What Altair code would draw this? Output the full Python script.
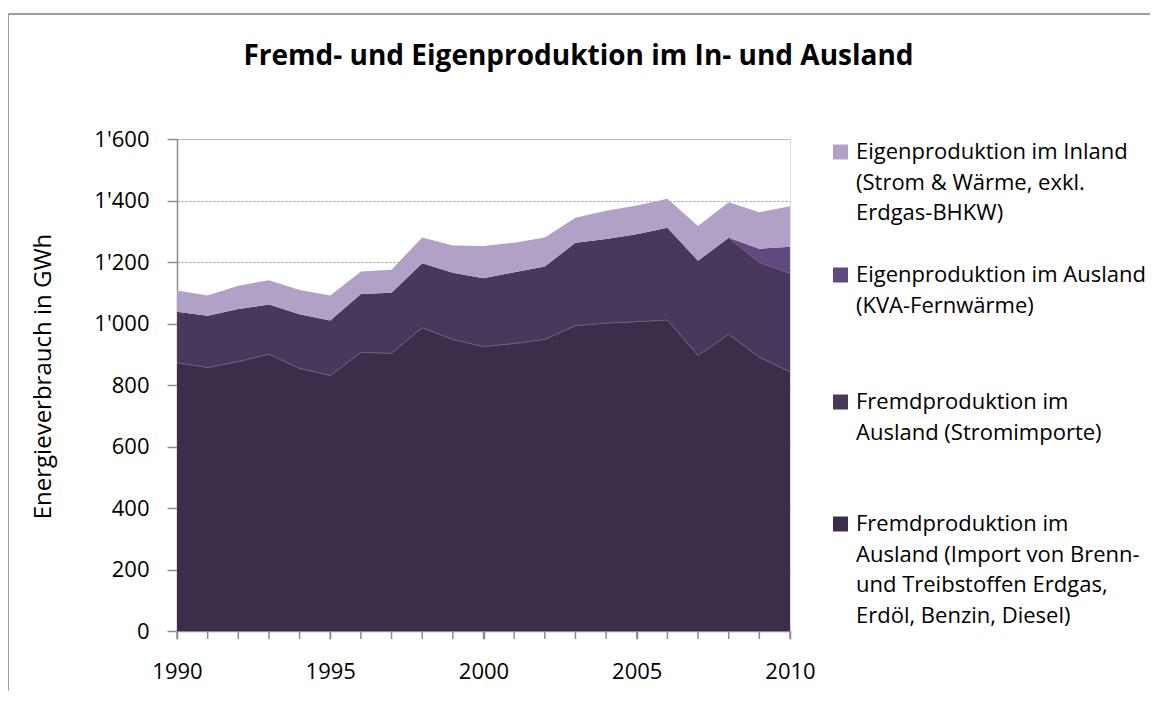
import altair as alt
import pandas as pd

# ---------------- data ----------------
years = list(range(1990, 2011))
year_labels = [1990, 1995, 2000, 2005, 2010]

series_names = [
    "Fremdproduktion im Ausland (Import von Brenn- und Treibstoffen Erdgas, Erdöl, Benzin, Diesel)",
    "Fremdproduktion im Ausland (Stromimporte)",
    "Eigenproduktion im Ausland (KVA-Fernwärme)",
    "Eigenproduktion im Inland (Strom & Wärme, exkl. Erdgas-BHKW)",
]

import_brenn = [872, 857, 876, 900, 854, 831, 906, 903, 986, 948, 925,
                935, 948, 993, 1001, 1006, 1011, 896, 965, 890, 843]
stromimporte = [166, 168, 171, 162, 176, 179, 190, 197, 210, 217, 222,
                232, 237, 270, 274, 284, 300, 308, 314, 308, 320]
kva_fernwaerme = [0, 0, 0, 0, 0, 0, 0, 0, 0, 0, 0,
                  0, 0, 0, 0, 0, 0, 0, 0, 45, 87]
eigen_inland = [69, 66, 76, 79, 79, 81, 73, 75, 84, 89, 105,
                96, 95, 81, 92, 94, 95, 113, 115, 119, 131]

legend_lines = [
    ["Eigenproduktion im Inland", "(Strom & Wärme, exkl.", "Erdgas-BHKW)"],
    ["Eigenproduktion im Ausland", "(KVA-Fernwärme)"],
    ["Fremdproduktion im", "Ausland (Stromimporte)"],
    ["Fremdproduktion im", "Ausland (Import von Brenn-", "und Treibstoffen Erdgas,", "Erdöl, Benzin, Diesel)"],
]
legend_series = [series_names[3], series_names[2], series_names[1], series_names[0]]

y_ticks = [0, 200, 400, 600, 800, 1000, 1200, 1400, 1600]
title_text = "Fremd- und Eigenproduktion im In- und Ausland"
y_title = "Energieverbrauch in GWh"

# ---------------- styles / layout ----------------
colors = ["#3C2D4B", "#47385C", "#5E4A7E", "#B2A1C7"]
AXIS_GREY = "#8C8C8C"
FONT = "Open Sans"
FS = 22
W, H = 613, 492
legend_entry_y = [13, 136, 263, 385]
legend_line_h = 30.5
legend_sym_x = 663.5
legend_text_x = 679

# ---------------- build tables ----------------
all_values = [import_brenn, stromimporte, kva_fernwaerme, eigen_inland]
rows = []
for order, (name, vals) in enumerate(zip(series_names, all_values)):
    for yr, v in zip(years, vals):
        rows.append({"year": yr, "series": name, "value": v, "order": order})
df = pd.DataFrame(rows)

edge_df = pd.DataFrame({"year": years, "value": import_brenn})
strom_top = [a + b for a, b in zip(import_brenn, stromimporte)]
edge2_df = pd.DataFrame({"year": years[-3:], "value": strom_top[-3:]})
tick_df = pd.DataFrame({"year": years})

leg_rows = []
sym_rows = []
for i, (name, lines) in enumerate(zip(legend_series, legend_lines)):
    sym_rows.append({"series": name, "sy": legend_entry_y[i]})
    for j, line in enumerate(lines):
        leg_rows.append({"line": line, "ly": legend_entry_y[i] + j * legend_line_h})
leg_df = pd.DataFrame(leg_rows)
sym_df = pd.DataFrame(sym_rows)

fill_scale = alt.Scale(domain=series_names, range=colors)
x_scale = alt.Scale(domain=[1990, 2010], nice=False, zero=False)

x_enc = alt.X(
    "year:Q",
    scale=x_scale,
    axis=alt.Axis(
        values=year_labels, format="d",
        tickSize=8, labelPadding=22, labelFlush=False, labelOverlap=False,
        grid=False, title=None,
        domainColor=AXIS_GREY, domainWidth=1.5, tickColor=AXIS_GREY, tickWidth=1.5,
        labelFont=FONT, labelFontSize=FS, labelColor="#000000",
    ),
)
y_enc = alt.Y(
    "value:Q",
    stack="zero",
    scale=alt.Scale(domain=[0, 1600], nice=False),
    axis=alt.Axis(
        values=y_ticks,
        labelExpr="replace(format(datum.value, ','), ',', \"'\")",
        tickSize=10, labelPadding=18, labelFlush=False,
        grid=True, gridDash=[2, 2], gridColor="#999999", gridWidth=1,
        domainColor=AXIS_GREY, domainWidth=1.5, tickColor=AXIS_GREY, tickWidth=1.5,
        labelFont=FONT, labelFontSize=FS, labelColor="#000000",
        title=y_title, titleFont=FONT, titleFontSize=24, titleFontWeight="normal",
        titleColor="#000000", titleAngle=270, titleX=-134, titleY=237,
        titleAlign="center", titleBaseline="middle",
    ),
)

frame = alt.Chart(alt.Data(values=[{}])).mark_rect(
    filled=False, stroke="#A0A0A0", strokeWidth=2
).encode(
    x=alt.value(-169), x2=alt.value(1010), y=alt.value(-125), y2=alt.value(620)
)

title = alt.Chart(alt.Data(values=[{"t": title_text}])).mark_text(
    font=FONT, fontSize=28, fontWeight="bold", color="#000000",
    align="center", baseline="alphabetic",
).encode(x=alt.value(401.5), y=alt.value(-74), text="t:N")

areas = alt.Chart(df).mark_area(strokeWidth=0).encode(
    x=x_enc,
    y=y_enc,
    fill=alt.Fill("series:N", scale=fill_scale, legend=None),
    order=alt.Order("order:Q", sort="ascending"),
)

edge = alt.Chart(edge_df).mark_line(color="#6B5C82", strokeWidth=1).encode(
    x="year:Q", y="value:Q"
)
edge2 = alt.Chart(edge2_df).mark_line(color="#6B5C82", strokeWidth=1).encode(
    x="year:Q", y="value:Q"
)

year_ticks = alt.Chart(tick_df).mark_rule(color=AXIS_GREY, strokeWidth=1.5).encode(
    x="year:Q", y=alt.value(H), y2=alt.value(H + 8)
)

leg_sym = alt.Chart(sym_df).mark_square(size=225, opacity=1).encode(
    x=alt.value(legend_sym_x),
    y=alt.Y("sy:Q", scale=None, axis=None),
    fill=alt.Fill("series:N", scale=fill_scale, legend=None),
)

leg_text = alt.Chart(leg_df).mark_text(
    align="left", baseline="middle", font=FONT, fontSize=FS, color="#000000"
).encode(
    x=alt.value(legend_text_x),
    y=alt.Y("ly:Q", scale=None, axis=None),
    text="line:N",
)

chart = alt.layer(frame, title, areas, edge, edge2, year_ticks, leg_sym, leg_text).properties(
    width=W, height=H,
    autosize=alt.AutoSizeParams(type="none"),
    padding={"left": 169, "top": 131, "right": 360, "bottom": 60},
).configure_view(stroke=None).configure(background="#FFFFFF")

chart.save("out.html", embed_options={"renderer": "svg", "actions": False})
